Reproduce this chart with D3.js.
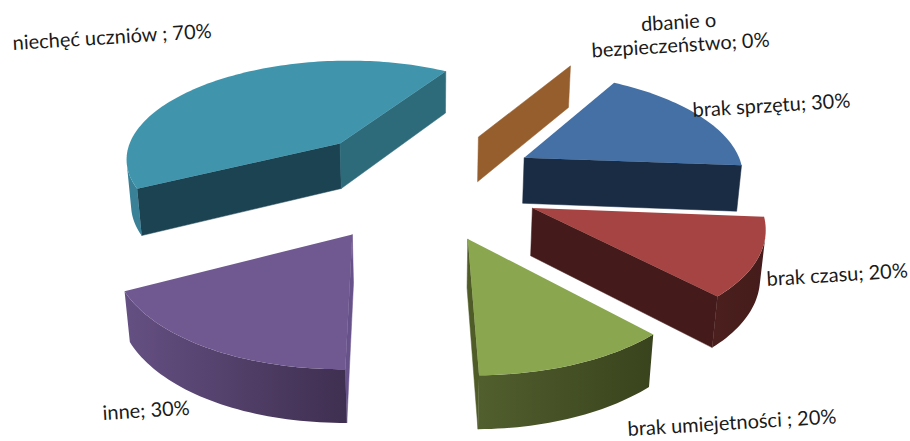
<!DOCTYPE html>
<html><head><meta charset="utf-8">
<script src="https://cdn.jsdelivr.net/npm/d3@7"></script>
<style>
html,body{margin:0;background:#fff}
svg{display:block}
text{font-family:Lato,"Open Sans",sans-serif;font-size:20px;fill:#1a1a1a}
</style></head>
<body><svg id="vis" width="910" height="441"></svg>
<script>
const categories = ["dbanie o bezpieczeństwo","brak sprzętu","brak czasu","brak umiejetności ","inne","niechęć uczniów "];
const percents = [0,30,20,20,30,70];

const top_colors = ["#965E2D","#4470A5","#A54442","#8AA64F","#705890","#4095AD"];
const start_wall = ["#965E2D","#1A2C44","#441B1A","#4F5C28","#68528A","#1C4352"];
const end_wall = ["#965E2D","#1A2C44","#441B1A","#4F5C28","#68528A","#2D6A7A"];
const outer_wall = [["#965E2D","#965E2D"],["#1A2C44","#1A2C44"],["#441B1A","#4A1F1D"],
                    ["#39431D","#515E2D"],["#3F2F50","#655083"],["#3A8096","#3A8096"]];

// camera fitted to the picture, disk radius 1, wall height 1
const cam = [161.919,-160.016,6.727,419.144, 40.721,68.220,50.298,182.775, -0.066558,-0.109359,0.015891];
const explode = 0.55;

const project = ([x,y,z]) => {
    const w = cam[8]*x + cam[9]*y + cam[10]*z + 1;
    return [(cam[0]*x + cam[1]*y + cam[2]*z + cam[3])/w,
            (cam[4]*x + cam[5]*y + cam[6]*z + cam[7])/w];
};
const line = d3.line();
const vis = d3.select("#vis");
const defs = vis.append("defs");

const slices = d3.pie().value(d=>d).sort(null)(percents);
const draw_order = [0,5,1,2,4,3];

draw_order.forEach(i => {
    const s = slices[i];
    const mid = (s.startAngle + s.endAngle)/2;
    const ox = explode*Math.sin(mid), oy = -explode*Math.cos(mid);
    const rim = (a,z) => [ox + Math.sin(a), oy - Math.cos(a), z];
    const apex = z => [ox, oy, z];
    const n = Math.max(1, Math.round((s.endAngle - s.startAngle)*40));
    const angle = d3.scaleLinear().domain([0,n]).range([s.startAngle, s.endAngle]);
    const shade = d3.scaleLinear().domain([0,n]).range(outer_wall[i]);
    const g = vis.append("g");

    // faces turned away from the camera have positive area here
    const facing = scr => d3.polygonArea(scr) < 0;
    const face = (pts, fill) => {
        const scr = pts.map(project);
        if(!facing(scr)) return;
        g.append("path").attr("d", line(scr)+"Z").attr("fill", fill).attr("stroke", fill).attr("stroke-width", 0.5);
    };

    face([apex(0), apex(1), rim(s.startAngle,1), rim(s.startAngle,0)], start_wall[i]);
    face([apex(1), apex(0), rim(s.endAngle,0), rim(s.endAngle,1)], end_wall[i]);
    if(percents[i] > 0){
        const seen = d3.range(n).filter(k => facing(
            [rim(angle(k),0), rim(angle(k),1), rim(angle(k+1),1), rim(angle(k+1),0)].map(project)));
        if(seen.length){
            const a = seen[0], b = seen[seen.length-1]+1;
            const steps = d3.range(a, b+1);
            const outline = steps.map(k => project(rim(angle(k),0)))
                .concat(steps.slice().reverse().map(k => project(rim(angle(k),1))));
            defs.append("linearGradient").attr("id","wall"+i).attr("gradientUnits","userSpaceOnUse")
                .attr("x1",project(rim(angle(a),0))[0]).attr("x2",project(rim(angle(b),0))[0])
                .attr("y1",0).attr("y2",0)
                .selectAll("stop").data([a,b]).join("stop")
                .attr("offset",(d,j)=>j).attr("stop-color",d=>shade(d));
            g.append("path").attr("d", line(outline)+"Z").attr("fill","url(#wall"+i+")");
        }
        const top = [apex(0)].concat(d3.range(n+1).map(k => rim(angle(k),0))).map(project);
        g.append("path").attr("d", line(top)+"Z").attr("fill", top_colors[i]);
    }
});

const label_rows = [
    {t:"dbanie o", x:679, y:29, a:"middle"},
    {t:categories[0].replace("dbanie o ","")+"; "+percents[0]+"%", x:681, y:52, a:"middle"},
    {t:categories[1]+"; "+percents[1]+"%", x:693, y:117, a:"start"},
    {t:categories[2]+"; "+percents[2]+"%", x:767, y:286, a:"start"},
    {t:categories[3]+"; "+percents[3]+"%", x:628, y:436, a:"start"},
    {t:categories[4]+"; "+percents[4]+"%", x:103, y:420, a:"start"},
    {t:categories[5]+"; "+percents[5]+"%", x:13, y:50, a:"start"}
];
vis.selectAll("text").data(label_rows).join("text")
    .attr("text-anchor", d=>d.a)
    .attr("transform", d=>`translate(${d.x},${d.y}) rotate(-3.5)`)
    .text(d=>d.t);
</script></body></html>
